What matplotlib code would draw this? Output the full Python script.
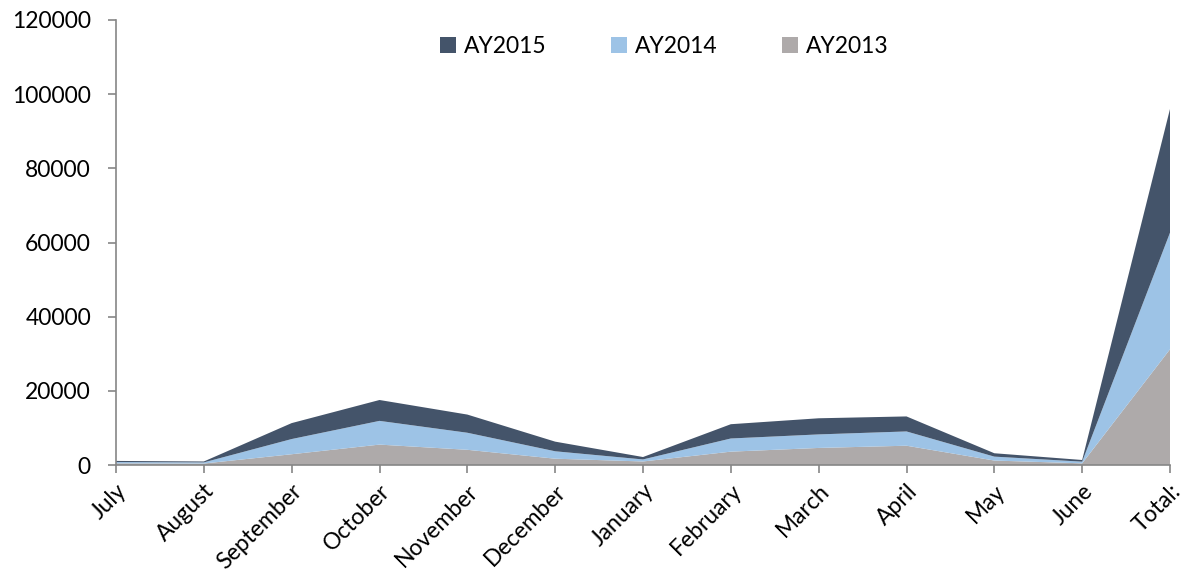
import matplotlib.pyplot as plt
import numpy as np

months = ["July", "August", "September", "October", "November", "December",
          "January", "February", "March", "April", "May", "June", "Total:"]
ay2013 = [450, 400, 2900, 5500, 4100, 1700, 950, 3600, 4600, 5200, 1200, 450, 31200]
ay2014 = [350, 300, 4100, 6400, 4600, 2000, 550, 3550, 3650, 3850, 1060, 450, 31450]
ay2015 = [300, 250, 4300, 5630, 4900, 2600, 650, 3850, 4350, 4050, 910, 450, 33350]

colors = {"AY2013": "#AEAAAA", "AY2014": "#9DC3E6", "AY2015": "#44546A"}

plt.rcParams['font.family'] = ['Lato', 'DejaVu Sans']

fig = plt.figure(figsize=(11.83, 5.87), dpi=100)
ax = fig.add_axes([116 / 1183, 1 - 465 / 587, (1170 - 116) / 1183, 445 / 587])

x = np.arange(len(months))
ax.stackplot(x, ay2013, ay2014, ay2015,
             colors=[colors["AY2013"], colors["AY2014"], colors["AY2015"]],
             labels=["AY2013", "AY2014", "AY2015"], linewidth=0)

ax.set_xlim(0, len(months) - 1)
ax.set_ylim(0, 120000)
ax.set_yticks(np.arange(0, 120001, 20000))
ax.set_xticks(x)
ax.set_xticklabels(months, rotation=45, ha="right", rotation_mode="anchor")

for s in ["top", "right"]:
    ax.spines[s].set_visible(False)
for s in ["left", "bottom"]:
    ax.spines[s].set_color("#868686")
    ax.spines[s].set_linewidth(1.2)
    ax.spines[s].set_zorder(3)
ax.tick_params(axis="both", colors="#868686", labelcolor="black", labelsize=16.5,
               length=6, width=1.2)
ax.tick_params(axis="y", pad=12)
ax.tick_params(axis="x", pad=5)

handles, labels = ax.get_legend_handles_labels()
ax.legend(handles[::-1], labels[::-1], loc="upper center", ncol=3, frameon=False,
          fontsize=16.5, handlelength=0.7, handleheight=0.7, handletextpad=0.35,
          columnspacing=2.8, bbox_to_anchor=(0.52, 1.01))

fig.savefig("out.png", dpi=100)
